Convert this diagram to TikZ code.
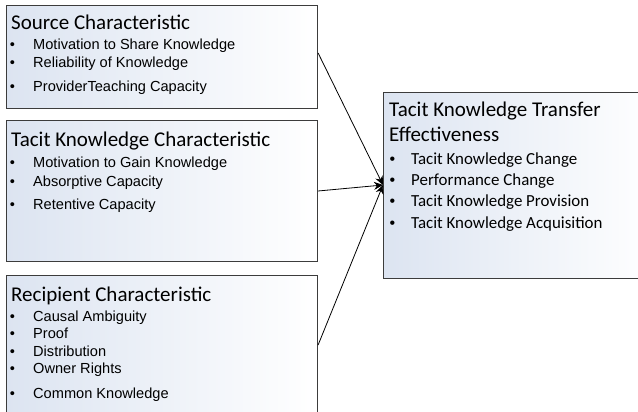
\documentclass[tikz,border=0pt]{standalone}
\usepackage{fontspec}
\setmainfont{Carlito}
\newfontfamily\arialfont{Liberation Sans}
\usetikzlibrary{arrows.meta}

\definecolor{boxtint}{HTML}{DCE4F1}
\definecolor{boxline}{HTML}{3C3C3C}

\tikzset{
  % tint on the left of each box, fading to white on the right
  factorbox/.style={draw=boxline, line width=1.1pt, rectangle, inner sep=0pt,
    anchor=north west, left color=boxtint, right color=white},
  boxtitle/.style={anchor=base west, inner sep=0pt, font=\fontsize{21}{24}\selectfont},
  leftitem/.style={anchor=base west, inner sep=0pt, font=\arialfont\fontsize{14.6}{17}\selectfont},
  rightitem/.style={anchor=base west, inner sep=0pt, font=\fontsize{16.9}{20}\selectfont},
  leftbullet/.style={anchor=base, inner sep=0pt, font=\arialfont\fontsize{14.6}{17}\selectfont},
  rightbullet/.style={anchor=base, inner sep=0pt, font=\arialfont\fontsize{16}{19}\selectfont},
  link/.style={draw=black, line width=0.8pt, -{Stealth[length=9pt,width=8pt]}}
}

\begin{document}
\begin{tikzpicture}[x=1pt, y=1pt]
  \useasboundingbox (0,0) rectangle (638,412);
  \clip (0,0) rectangle (638,412);

  % the four boxes
  \node[factorbox, minimum width=311pt, minimum height=103pt] (source) at (6,407) {};
  \node[factorbox, minimum width=311pt, minimum height=141pt] (tacit) at (6,292) {};
  \node[factorbox, minimum width=311pt, minimum height=150pt] (recip) at (6,137) {};
  \node[factorbox, minimum width=270pt, minimum height=186pt] (effect) at (383,320) {};

  % Source Characteristic
  \node[boxtitle] (t1) at (11,382) {Source Characteristic};
  \foreach \y/\txt [count=\i] in {362/Motivation to Share Knowledge,
                                  344/Reliability of Knowledge,
                                  320/ProviderTeaching Capacity} {
    \node[leftbullet] (sb\i) at (12.5,\y) {•};
    \node[leftitem] (si\i) at (33,\y) {\txt};
  }

  % Tacit Knowledge Characteristic
  \node[boxtitle] (t2) at (11,265) {Tacit Knowledge Characteristic};
  \foreach \y/\txt [count=\i] in {244/Motivation to Gain Knowledge,
                                  225/Absorptive Capacity,
                                  202/Retentive Capacity} {
    \node[leftbullet] (tb\i) at (12.5,\y) {•};
    \node[leftitem] (ti\i) at (33,\y) {\txt};
  }

  % Recipient Characteristic
  \node[boxtitle] (t3) at (11,110) {Recipient Characteristic};
  \foreach \y/\txt [count=\i] in {90/Causal Ambiguity,
                                  73/Proof,
                                  55/Distribution,
                                  38/Owner Rights,
                                  13/Common Knowledge} {
    \node[leftbullet] (rb\i) at (12.5,\y) {•};
    \node[leftitem] (ri\i) at (33,\y) {\txt};
  }

  % Tacit Knowledge Transfer Effectiveness
  \node[boxtitle] (t4a) at (389,295) {Tacit Knowledge Transfer};
  \node[boxtitle] (t4b) at (389,270) {Effectiveness};
  \foreach \y/\txt [count=\i] in {247.5/Tacit Knowledge Change,
                                  226.5/Performance Change,
                                  205.5/Tacit Knowledge Provision,
                                  183.5/Tacit Knowledge Acquisition} {
    \node[rightbullet] (eb\i) at (392.5,\y) {•};
    \node[rightitem] (ei\i) at (411,\y) {\txt};
  }

  % connectors into the effectiveness box
  \coordinate (target) at (383,227);
  \draw[link] (source.north east |- 0,359) -- (target);
  \draw[link] (tacit.north east |- 0,221) -- (target);
  \draw[link] (recip.north east |- 0,67) -- (target);
\end{tikzpicture}
\end{document}
